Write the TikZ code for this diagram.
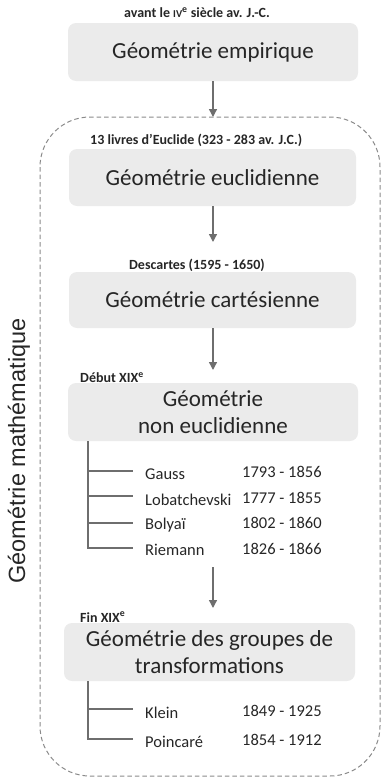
\documentclass[tikz,border=0pt]{standalone}
\usepackage{fontspec}
\setmainfont{Carlito}
\newfontfamily\arialfont{Liberation Sans}
\usetikzlibrary{arrows.meta}
\definecolor{boxfill}{HTML}{EBEBEB}
\definecolor{linegray}{HTML}{6E6E6E}
\definecolor{dashgray}{HTML}{8A8A8A}
\definecolor{txt}{HTML}{262626}
\tikzset{
  gbox/.style={fill=boxfill, rounded corners=8pt, inner sep=0pt, align=center,
    font=\fontsize{23}{28}\selectfont, text=txt},
  era/.style={font=\bfseries\fontsize{14}{16}\selectfont, text=txt, inner sep=0pt},
  arr/.style={draw=linegray, line width=1.4pt, -{Triangle[length=8pt,width=8pt]}},
  tree/.style={draw=linegray, line width=2.4pt},
  person/.style={font=\fontsize{16.5}{19}\selectfont, text=txt, inner sep=0pt, anchor=west},
}
\begin{document}
\begin{tikzpicture}[x=1pt,y=-1pt]
\useasboundingbox (0,0) rectangle (382,779);
% dashed frame
\draw[dashgray, line width=1pt, dash pattern=on 4.5pt off 3pt, rounded corners=50pt]
  (40,117) rectangle (380,776);
\node[font=\arialfont\fontsize{23.5}{26}\selectfont, text=txt, rotate=90, inner sep=0pt] (lab) at (19,451) {Géométrie mathématique};

% boxes
\node[gbox, minimum width=290pt, minimum height=58pt] (b1) at (213,52) {Géométrie empirique};
\node[gbox, minimum width=287pt, minimum height=57pt] (b2) at (212.5,177.5) {Géométrie euclidienne};
\node[gbox, minimum width=287pt, minimum height=56pt] (b3) at (212.5,300) {Géométrie cartésienne};
\node[gbox, minimum width=290pt, minimum height=58pt, font=\fontsize{23}{27.5}\selectfont] (b4) at (213,412) {Géométrie\\non euclidienne};
\node[gbox, minimum width=291pt, minimum height=58pt, font=\fontsize{23}{27.5}\selectfont] (b5) at (209.5,652) {Géométrie des groupes de\\transformations};

% era labels
\node[era] (e1) at (197,13) {avant le {\fontsize{10.5}{12}\selectfont IV}\textsuperscript{e} siècle av. J.-C.};
\node[era, anchor=west] (e2) at (90,140) {13 livres d’Euclide (323 - 283 av. J.C.)};
\node[era] (e3) at (197,265) {Descartes (1595 - 1650)};
\node[era, anchor=west] (e4) at (80,378) {Début XIX\textsuperscript{e}};
\node[era, anchor=west] (e5) at (80,617) {Fin XIX\textsuperscript{e}};

% arrows
\coordinate (a1) at (213,117);
\coordinate (a2) at (213,242);
\coordinate (a3) at (213,370);
\coordinate (a4s) at (213,567);
\coordinate (a4) at (213,608);
\draw[arr] (b1.south -| a1) -- (a1);
\draw[arr] (b2.south -| a2) -- (a2);
\draw[arr] (b3.south -| a3) -- (a3);
\draw[arr] (a4s) -- (a4);

% tree 1
\coordinate (t1) at (88,441);
\coordinate (g1) at (88,471); \coordinate (g1e) at (133,471);
\coordinate (g2) at (88,496); \coordinate (g2e) at (133,496);
\coordinate (g3) at (88,523); \coordinate (g3e) at (133,523);
\coordinate (g4) at (88,548); \coordinate (g4e) at (133,548);
\draw[tree] (t1) -- (g4) -- (g4e);
\draw[tree] (g1) -- (g1e);
\draw[tree] (g2) -- (g2e);
\draw[tree] (g3) -- (g3e);
\node[person] (n1) at (145,474) {Gauss};
\node[person] (n2) at (145,500) {Lobatchevski};
\node[person] (n3) at (145,525) {Bolyaï};
\node[person] (n4) at (145,550) {Riemann};
\node[person] (y1) at (242,472) {1793 - 1856};
\node[person] (y2) at (242,498) {1777 - 1855};
\node[person] (y3) at (242,523) {1802 - 1860};
\node[person] (y4) at (242,549) {1826 - 1866};

% tree 2
\coordinate (t2) at (88,681);
\coordinate (k1) at (88,709); \coordinate (k1e) at (133,709);
\coordinate (k2) at (88,739); \coordinate (k2e) at (133,739);
\draw[tree] (t2) -- (k2) -- (k2e);
\draw[tree] (k1) -- (k1e);
\node[person] (m1) at (145,713) {Klein};
\node[person] (m2) at (145,742) {Poincaré};
\node[person] (z1) at (242,711) {1849 - 1925};
\node[person] (z2) at (242,740) {1854 - 1912};
\end{tikzpicture}
\end{document}
